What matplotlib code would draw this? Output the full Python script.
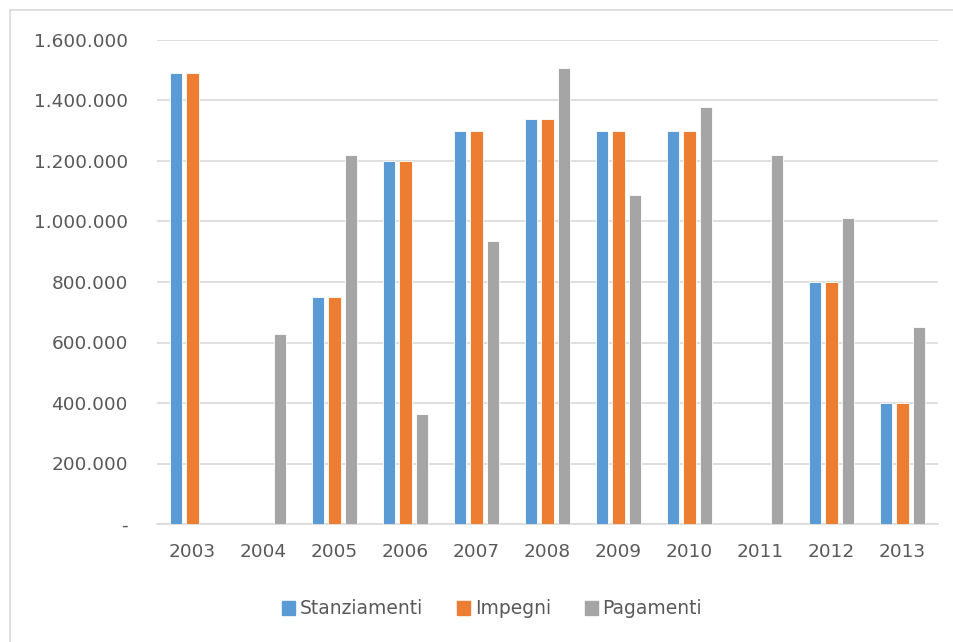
import matplotlib
matplotlib.use("Agg")
import matplotlib.pyplot as plt
import numpy as np
from matplotlib.lines import Line2D

years = ["2003", "2004", "2005", "2006", "2007", "2008", "2009", "2010", "2011", "2012", "2013"]
stanziamenti = [1490000, 0, 750000, 1200000, 1300000, 1340000, 1300000, 1300000, 0, 800000, 400000]
impegni = [1490000, 0, 750000, 1200000, 1300000, 1340000, 1300000, 1300000, 0, 800000, 400000]
pagamenti = [0, 628000, 1220000, 364000, 934000, 1507000, 1087000, 1380000, 1220000, 1010000, 650000]

series = [
    ("Stanziamenti", stanziamenti, "#5B9BD5"),
    ("Impegni", impegni, "#ED7D31"),
    ("Pagamenti", pagamenti, "#A5A5A5"),
]

plt.rcParams["font.family"] = ["DejaVu Sans"]
text_col = "#595959"
grid_col = "#D9D9D9"

fig = plt.figure(figsize=(9.54, 6.42), dpi=100)
ax = fig.add_axes([157 / 954, 1 - 524 / 642, (938 - 157) / 954, (524 - 40) / 642])

x = np.arange(len(years))
width = 0.18
step = 0.232
handles = []
for i, (name, vals, col) in enumerate(series):
    ax.bar(x + (i - 1) * step, vals, width, color=col, edgecolor="white", linewidth=0.6, zorder=3)
    handles.append(plt.Rectangle((0, 0), 1, 1, color=col, label=name))

ax.set_xlim(-0.5, len(years) - 0.5)
ax.set_ylim(0, 1600000)
ax.set_yticks(np.arange(0, 1600001, 200000))


def fmt(v, pos):
    if v == 0:
        return "-"
    return f"{v:,.0f}".replace(",", ".")


ax.yaxis.set_major_formatter(plt.FuncFormatter(fmt))
ax.set_xticks(x)
ax.set_xticklabels(years)
ax.tick_params(axis="both", length=0, colors=text_col, labelsize=13.3)
ax.tick_params(axis="y", pad=21)
ax.tick_params(axis="x", pad=14)

ax.grid(axis="y", color=grid_col, linewidth=1.2, zorder=0)
for s in ["top", "right", "left"]:
    ax.spines[s].set_visible(False)
ax.spines["bottom"].set_color(grid_col)
ax.spines["bottom"].set_linewidth(1.2)

fig.legend(handles=handles, loc="center", bbox_to_anchor=(492 / 954, 1 - 609 / 642),
           ncol=3, frameon=False, fontsize=13.5, handlelength=0.7, handleheight=0.7,
           handletextpad=0.25, columnspacing=1.8, labelcolor=text_col)

# chart border (top and left visible)
fig.add_artist(Line2D([10 / 954, 1], [1 - 10 / 642, 1 - 10 / 642], color=grid_col, lw=1.2))
fig.add_artist(Line2D([10 / 954, 10 / 954], [0, 1 - 10 / 642], color=grid_col, lw=1.2))

fig.savefig("out.png", dpi=100)
